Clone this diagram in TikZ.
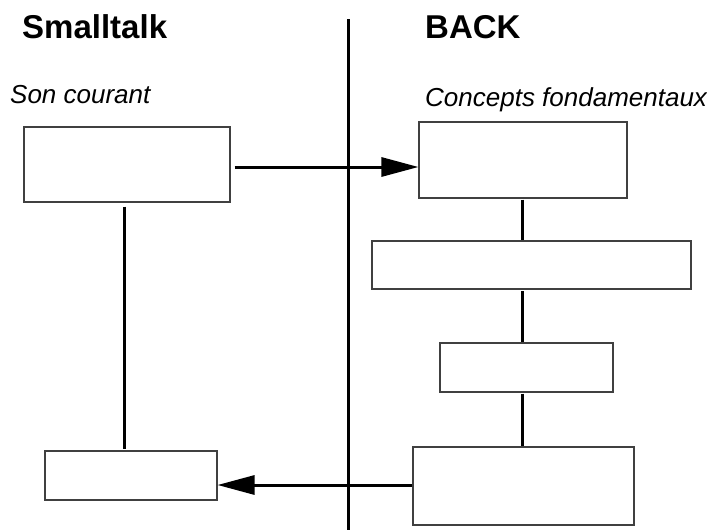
\documentclass[tikz,border=0pt]{standalone}
\usepackage{fontspec}
\setmainfont{Liberation Sans}
\usetikzlibrary{arrows.meta}
\begin{document}
\begin{tikzpicture}[x=1pt,y=-1pt,
  box/.style={draw=black!75, line width=1.1pt, fill=white, rectangle, inner sep=0pt},
  conn/.style={line width=3pt, black},
  arr/.style={conn, -{Triangle[length=37pt,width=19pt]}},
  title/.style={font=\fontsize{33}{36}\selectfont\bfseries, anchor=base west, inner sep=0pt},
  sub/.style={font=\fontsize{26}{28}\selectfont\itshape, anchor=base west, inner sep=0pt}]
\useasboundingbox (0,0) rectangle (707,530);

% column headings
\node[title] (hst) at (22,38) {Smalltalk};
\node[title] (hbk) at (425,38) {BACK};
\node[sub] (sst) at (10,103) {Son courant};
\node[sub] (sbk) at (425,106) {Concepts fondamentaux};

% separator between the two columns
\coordinate (septop) at (348,19);
\coordinate (sepbot) at (348,530);
\draw[conn] (septop) -- (sepbot);

% Smalltalk side
\node[box, minimum width=206pt, minimum height=75pt] (st1) at (127,164.5) {};
\node[box, minimum width=172pt, minimum height=49pt] (st2) at (131,475.5) {};

% BACK side
\node[box, minimum width=208pt, minimum height=76pt] (b1) at (523,160) {};
\node[box, minimum width=319pt, minimum height=48pt] (b2) at (531.5,265) {};
\node[box, minimum width=173pt, minimum height=49pt] (b3) at (526.5,367.5) {};
\node[box, minimum width=221pt, minimum height=78pt] (b4) at (523.5,486) {};

% vertical links
\coordinate (lx) at (124,0);
\coordinate (rx) at (522,0);
\draw[conn] ([yshift=-4pt]lx |- st1.south) -- ([yshift=1pt]lx |- st2.north);
\draw[conn] ([yshift=-1pt]rx |- b1.south) -- (rx |- b2.north);
\draw[conn] ([yshift=-1.5pt]rx |- b2.south) -- (rx |- b3.north);
\draw[conn] ([yshift=-1pt]rx |- b3.south) -- (rx |- b4.north);

% arrows across the separator
\coordinate (ay1) at (0,167);
\coordinate (ay2) at (0,485);
\draw[arr] ([xshift=4pt]st1.east |- ay1) -- (b1.west |- ay1);
\draw[arr] (b4.west |- ay2) -- (st2.east |- ay2);
\end{tikzpicture}
\end{document}
